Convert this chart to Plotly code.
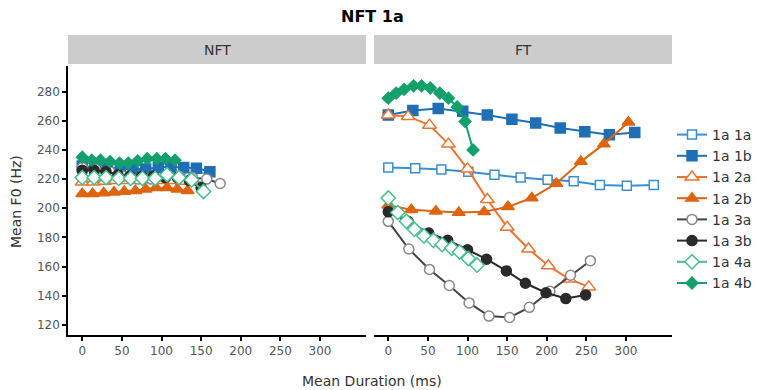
import plotly.graph_objects as go

# Mean F0 contours by duration, split into NFT and FT panels
series_names = ["1a 1a", "1a 1b", "1a 2a", "1a 2b", "1a 3a", "1a 3b", "1a 4a", "1a 4b"]

# NFT panel
nft_1a_x = [0, 15, 30, 45, 60, 75, 90, 105, 120, 135, 150]
nft_1a_y = [227, 226, 225, 224, 223.5, 223, 223, 222.5, 222, 221.5, 221]
nft_1b_x = [0, 16, 32, 48, 64, 80, 96, 112, 128, 144, 161]
nft_1b_y = [229, 228, 228, 227, 227, 227, 228, 228.5, 228, 227.5, 225]
nft_2a_x = [0, 14, 28, 42, 56, 70, 84, 98, 112, 126, 140]
nft_2a_y = [218, 218, 218.5, 219, 219, 219.5, 219.5, 219, 219, 218.5, 218]
nft_2b_x = [0, 13, 27, 40, 53, 67, 80, 93, 107, 120, 133]
nft_2b_y = [210, 210, 210.5, 211, 211.5, 212, 213, 214, 214, 213, 212]
nft_3a_x = [0, 17, 35, 52, 70, 87, 104, 122, 139, 157, 174]
nft_3a_y = [228, 227, 225, 222, 220, 220, 221, 222, 221, 220, 217]
nft_3b_x = [0, 15, 30, 45, 60, 75, 90, 105, 120, 135, 150]
nft_3b_y = [226, 226, 225, 223, 222, 222, 222, 221, 221, 219, 214]
nft_4a_x = [0, 15, 30, 46, 61, 76, 92, 107, 122, 138, 153]
nft_4a_y = [221, 221, 221, 220.5, 220.5, 220.5, 220.5, 223, 221, 219.5, 211.5]
nft_4b_x = [0, 12, 23, 35, 47, 58, 70, 82, 94, 105, 117]
nft_4b_y = [235, 233, 233, 232, 231, 231, 232.5, 234, 234, 234, 233]

# FT panel
ft_1a_x = [0, 34, 67, 101, 134, 167, 201, 234, 267, 301, 335]
ft_1a_y = [228, 227.5, 226.5, 225, 223, 221, 219.5, 218.5, 216, 215.5, 216]
ft_1b_x = [0, 31, 63, 94, 125, 156, 186, 217, 248, 279, 311]
ft_1b_y = [264, 267, 268.5, 266.5, 264, 261, 258.5, 255, 252.5, 250.5, 252]
ft_2a_x = [0, 25, 52, 76, 100, 125, 150, 177, 202, 228, 253]
ft_2a_y = [264, 263, 257, 244, 227, 206, 187, 172, 160.5, 151.5, 146]
ft_2b_x = [0, 29, 60, 89, 121, 151, 181, 212, 243, 272, 303]
ft_2b_y = [202, 199, 198, 197, 197.5, 201, 207, 217, 232, 244, 259]
ft_3a_x = [0, 26, 52, 77, 102, 127, 153, 178, 204, 230, 255]
ft_3a_y = [191, 172, 158, 147, 135, 126, 125, 132, 143, 154, 164]
ft_3b_x = [0, 25, 51, 75, 100, 124, 149, 173, 199, 224, 249]
ft_3b_y = [197.5, 191, 183, 178, 171.5, 165, 157, 148.5, 142, 138, 140.5]
ft_4a_x = [0, 12, 23, 33, 45, 57, 68, 80, 90, 101, 112]
ft_4a_y = [207, 197, 191, 185.5, 181, 178, 175, 172.5, 170, 165.5, 161]
ft_4b_x = [0, 10, 20, 32, 42, 53, 65, 76, 87, 97, 107]
ft_4b_y = [275.5, 279, 281.5, 284, 284, 282.5, 279, 275.5, 269.5, 259.5, 240]

x_ticks = [0, 50, 100, 150, 200, 250, 300]
y_ticks = [120, 140, 160, 180, 200, 220, 240, 260, 280]

nft_data = [(nft_1a_x, nft_1a_y), (nft_1b_x, nft_1b_y), (nft_2a_x, nft_2a_y), (nft_2b_x, nft_2b_y),
            (nft_3a_x, nft_3a_y), (nft_3b_x, nft_3b_y), (nft_4a_x, nft_4a_y), (nft_4b_x, nft_4b_y)]
ft_data = [(ft_1a_x, ft_1a_y), (ft_1b_x, ft_1b_y), (ft_2a_x, ft_2a_y), (ft_2b_x, ft_2b_y),
           (ft_3a_x, ft_3a_y), (ft_3b_x, ft_3b_y), (ft_4a_x, ft_4a_y), (ft_4b_x, ft_4b_y)]

# line colour, marker symbol, marker fill, marker size
styles = [
    ("#3a8fd3", "square", "white", 9),
    ("#1f6fb6", "square", "#1f6fb6", 10),
    ("#ea7430", "triangle-up", "white", 12),
    ("#de6410", "triangle-up", "#de6410", 11),
    ("#444444", "circle", "white", 10),
    ("#2a2a2a", "circle", "#2a2a2a", 10),
    ("#45bf8e", "diamond", "white", 11),
    ("#13a06c", "diamond", "#13a06c", 9),
]

fig = go.Figure()

def add_series(data, xa, ya, show):
    for name, (xs, ys), (col, sym, fill, size) in zip(series_names, data, styles):
        mline = "#888888" if name == "1a 3a" else col
        fig.add_trace(go.Scatter(
            x=xs, y=ys, mode="lines+markers", name=name,
            xaxis=xa, yaxis=ya, showlegend=show,
            line=dict(color=col, width=2),
            marker=dict(symbol=sym, size=size, color=fill,
                        line=dict(color=mline, width=1.5)),
        ))

add_series(nft_data, "x", "y", False)
add_series(ft_data, "x2", "y2", True)

W, H = 763, 390
FONT = "DejaVu Sans, Arial, sans-serif"
d1 = [68 / W, 366 / W]
d2 = [374 / W, 672 / W]
ydom = [(H - 335) / H, (H - 66) / H]
tick_font = dict(family=FONT, size=12, color="#555555")

xcommon = dict(range=[-18, 358], tickvals=x_ticks, showgrid=False, zeroline=False,
               showline=True, linecolor="black", linewidth=1.5, ticks="outside",
               ticklen=4, tickwidth=1.5, tickcolor="black", tickfont=tick_font)
fig.update_layout(
    width=W, height=H,
    margin=dict(l=0, r=0, t=0, b=0),
    paper_bgcolor="white", plot_bgcolor="white",
    xaxis=dict(domain=d1, anchor="y", **xcommon),
    xaxis2=dict(domain=d2, anchor="y2", **xcommon),
    yaxis=dict(domain=ydom, anchor="x", range=[113, 297.6], tickvals=y_ticks,
               showgrid=False, zeroline=False, showline=True, linecolor="black",
               linewidth=1.5, ticks="outside", ticklen=4, tickwidth=1.5,
               tickcolor="black", tickfont=tick_font),
    yaxis2=dict(domain=ydom, anchor="x2", range=[113, 297.6], showgrid=False,
                zeroline=False, showline=False, showticklabels=False, ticks=""),
    legend=dict(x=672 / W, y=(H - 119) / H, xanchor="left", yanchor="top",
                font=dict(family=FONT, size=14, color="#333333"),
                itemwidth=30, tracegroupgap=0, bgcolor="rgba(0,0,0,0)"),
    font=dict(family=FONT),
)

# facet strips
for dom, label in [(d1, "NFT"), (d2, "FT")]:
    fig.add_shape(type="rect", xref="paper", yref="paper",
                  x0=dom[0], x1=dom[1], y0=(H - 64) / H, y1=(H - 35) / H,
                  fillcolor="#cccccc", line=dict(width=0), layer="below")
    fig.add_annotation(text=label, xref="paper", yref="paper",
                       x=(dom[0] + dom[1]) / 2, y=(H - 50) / H,
                       xanchor="center", yanchor="middle",
                       showarrow=False, font=dict(family=FONT, size=14, color="#333333"))

fig.add_annotation(text="<b>NFT 1a</b>", xref="paper", yref="paper",
                   x=372 / W, y=(H - 17) / H, xanchor="center", yanchor="middle",
                   showarrow=False, font=dict(family=FONT, size=16, color="black"))
fig.add_annotation(text="Mean F0 (Hz)", xref="paper", yref="paper",
                   x=16 / W, y=(H - 202) / H, xanchor="center", yanchor="middle",
                   textangle=-90, showarrow=False,
                   font=dict(family=FONT, size=14, color="#333333"))
fig.add_annotation(text="Mean Duration (ms)", xref="paper", yref="paper",
                   x=372 / W, y=(H - 381) / H, xanchor="center", yanchor="middle",
                   showarrow=False, font=dict(family=FONT, size=14, color="#333333"))

fig.write_html("out.html")
